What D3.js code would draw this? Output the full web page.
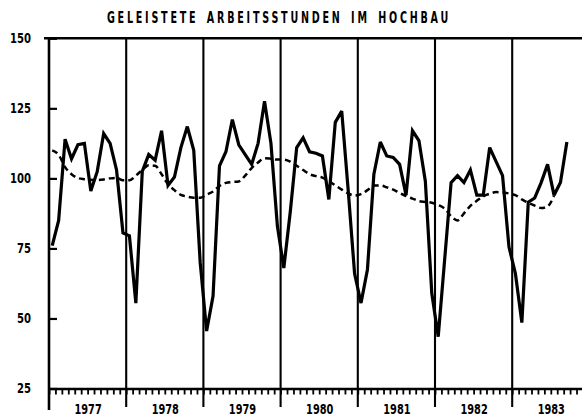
<!DOCTYPE html>
<html>
<head>
<meta charset="utf-8">
<script src="https://cdn.jsdelivr.net/npm/d3@7"></script>
<style>
  html, body { margin: 0; padding: 0; background: #fff; }
  svg { display: block; }
</style>
</head>
<body>
<svg id="chart" width="582" height="416"></svg>
<script>
// ---- data -------------------------------------------------------------
const title = "GELEISTETE ARBEITSSTUNDEN IM HOCHBAU";
const years = ["1977", "1978", "1979", "1980", "1981", "1982", "1983"];
const yTicks = [25, 50, 75, 100, 125, 150];

// monthly worked hours (index), solid line
const h1977 = [76, 85, 114, 107, 112, 112.5, 95.5, 102.5, 116, 112.5, 103, 80.5];
const h1978 = [79.5, 55.5, 102.5, 108.5, 106.5, 117, 97.5, 100.5, 111, 118.5, 110, 70];
const h1979 = [45.5, 58, 104.5, 109.5, 121, 112, 108.5, 105, 112.5, 127.5, 112.5, 83];
const h1980 = [68, 88, 111, 114.5, 109.5, 109, 108, 92.5, 120, 124, 96, 66];
const h1981 = [55.5, 67.5, 101.5, 113, 108, 107.5, 105, 94, 117, 113.5, 99, 59];
const h1982 = [43.5, 71, 98.5, 101, 98.5, 103, 94, 94, 111, 106, 101, 75.5];
const h1983 = [66, 48.5, 91.5, 93, 98.5, 105, 94, 98.5, 113];

// trend / seasonally adjusted, dashed line
const trend = [110, 108.4, 104, 101.5, 100.1, 99.7, 99.5, 99.4, 99.6, 100, 100.2, 99.3,
  99.3, 101, 103, 104.7, 104.5, 101.5, 97.9, 95.8, 94.1, 93.5, 93.1, 93.1,
  94.2, 95.3, 97.3, 98.4, 98.7, 98.9, 101, 103.7, 105.7, 107.2, 107, 106.7,
  106.7, 106, 104.5, 103, 101.5, 100.8, 100.3, 99, 97.5, 96, 94.6, 93.9,
  94.4, 95.8, 97.5, 97.5, 96.8, 96, 94.8, 93.7, 92.8, 91.9, 91.6, 91.3,
  90.5, 89.2, 86.5, 85, 87.5, 90.2, 92, 93.6, 94.5, 95.1, 95, 94.6,
  94, 92.5, 91.3, 90.3, 89.4, 90, 93.8];

const hours = [].concat(h1977, h1978, h1979, h1980, h1981, h1982, h1983);

// ---- layout -----------------------------------------------------------
const svg = d3.select("#chart");
const plotLeft = 49, plotTop = 38.3, plotBottom = 388.5, yearW = 77.2;
const nMonths = years.length * 12;

const x = d3.scaleLinear().domain([0, nMonths]).range([plotLeft, plotLeft + yearW * years.length]);
const y = d3.scaleLinear().domain([25, 150]).range([plotBottom, plotTop]);

const fontFam = "'DejaVu Sans', sans-serif";

// title
svg.append("text")
  .attr("transform", "translate(279,22.8) scale(0.6,1)")
  .attr("text-anchor", "middle")
  .style("font-family", fontFam)
  .style("font-weight", "bold")
  .style("font-size", "16px")
  .style("letter-spacing", "4.6px")
  .style("word-spacing", "4px")
  .attr("fill", "#000")
  .text(title);

// top border
svg.append("line")
  .attr("x1", plotLeft - 5).attr("x2", 582)
  .attr("y1", plotTop).attr("y2", plotTop)
  .attr("stroke", "#000").attr("stroke-width", 2.4);

// year dividers
svg.append("g").selectAll("line")
  .data(d3.range(1, years.length))
  .join("line")
  .attr("x1", d => x(d * 12)).attr("x2", d => x(d * 12))
  .attr("y1", plotTop).attr("y2", 407)
  .attr("stroke", "#000").attr("stroke-width", 2.1);

// y axis (inward ticks)
const yAxis = svg.append("g")
  .attr("transform", `translate(${plotLeft},0)`)
  .call(d3.axisLeft(y).tickValues(yTicks).tickSizeInner(-8).tickSizeOuter(0).tickPadding(18));
yAxis.select(".domain").remove();
yAxis.selectAll(".tick line").attr("stroke", "#000").attr("stroke-width", 2.2);
yAxis.selectAll(".tick text")
  .attr("x", null)
  .attr("transform", "translate(-18,0) scale(0.72,1)")
  .style("font-family", fontFam)
  .style("font-weight", "bold")
  .style("font-size", "14px")
  .attr("fill", "#000");

// left axis line
svg.append("line")
  .attr("x1", plotLeft).attr("x2", plotLeft)
  .attr("y1", plotTop - 1).attr("y2", 410)
  .attr("stroke", "#000").attr("stroke-width", 2.6);

// x axis with month ticks
const xAxis = svg.append("g")
  .attr("transform", `translate(0,${plotBottom})`)
  .call(d3.axisBottom(x).tickValues(d3.range(0, nMonths + 1)).tickSizeInner(6).tickSizeOuter(0).tickFormat(""));
xAxis.select(".domain").attr("stroke", "#000").attr("stroke-width", 2.4);
xAxis.selectAll(".tick line").attr("stroke", "#000").attr("stroke-width", 1.8);

// year labels
const yearAxis = svg.append("g")
  .attr("transform", `translate(0,${plotBottom})`)
  .call(d3.axisBottom(x).tickValues(years.map((d, i) => i * 12 + 6)).tickSize(0)
    .tickFormat((d, i) => years[i]));
yearAxis.select(".domain").remove();
yearAxis.selectAll(".tick text")
  .attr("y", null).attr("dy", null)
  .attr("transform", "translate(0,25.3) scale(0.7,1)")
  .style("font-family", fontFam)
  .style("font-weight", "bold")
  .style("font-size", "14px")
  .attr("fill", "#000");

// lines
const lineSolid = d3.line()
  .x((d, i) => x(i + 0.5))
  .y(d => y(d));
const lineTrend = d3.line()
  .x((d, i) => x(i + 0.5))
  .y(d => y(d))
  .curve(d3.curveMonotoneX);

svg.append("path")
  .datum(trend)
  .attr("d", lineTrend)
  .attr("fill", "none")
  .attr("stroke", "#000")
  .attr("stroke-width", 2.5)
  .attr("stroke-dasharray", "6,4");

svg.append("path")
  .datum(hours)
  .attr("d", lineSolid)
  .attr("fill", "none")
  .attr("stroke", "#000")
  .attr("stroke-width", 3.2)
  .attr("stroke-linejoin", "miter")
  .attr("stroke-miterlimit", 3);
</script>
</body>
</html>
